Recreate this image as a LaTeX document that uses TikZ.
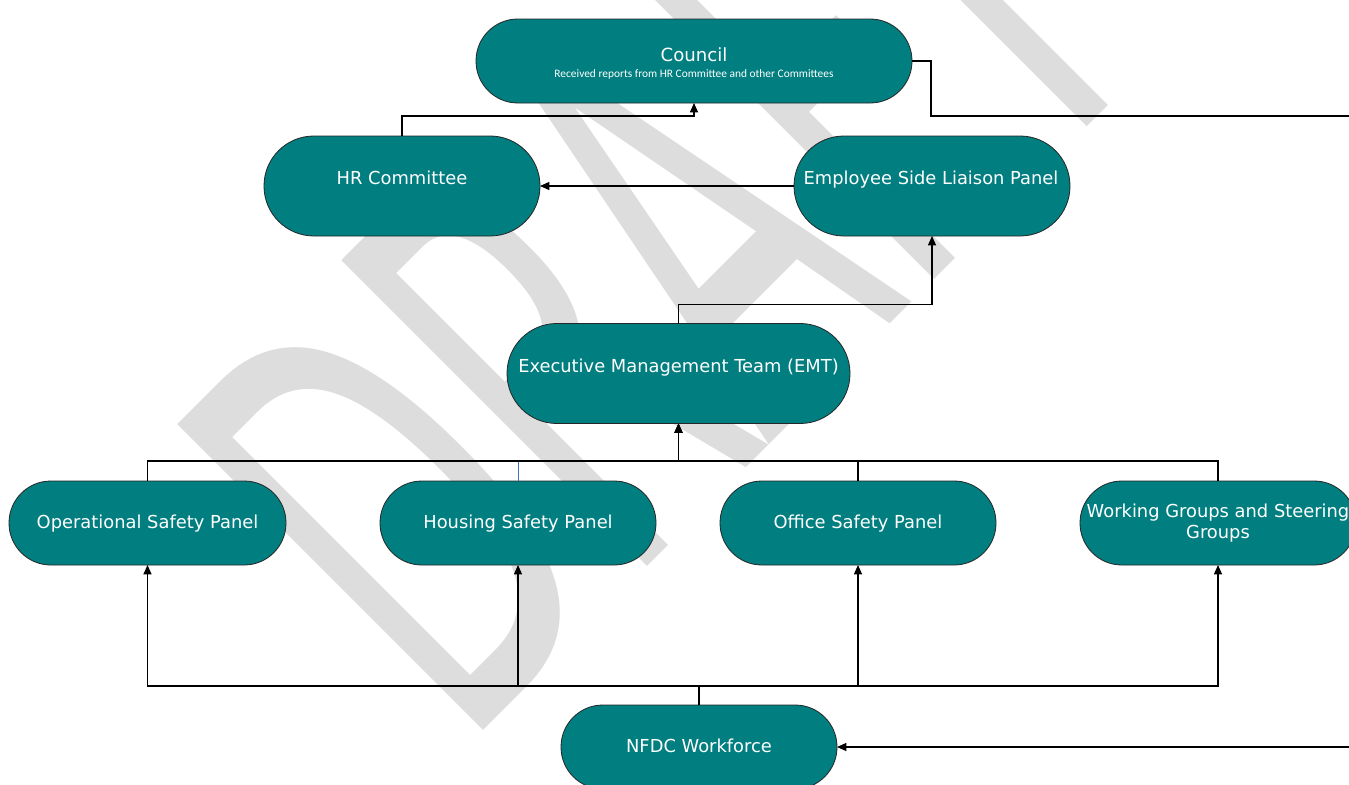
\documentclass[tikz,border=0pt]{standalone}
\usepackage{fontspec}
\setmainfont{DejaVu Sans}
\newfontfamily\subfont{Carlito}
\newfontfamily\wmfont{DejaVu Sans}
\usetikzlibrary{arrows.meta}
\definecolor{tealbox}{RGB}{0,126,128}
\definecolor{wmgrey}{RGB}{221,221,221}
\definecolor{connblue}{RGB}{68,114,196}
\begin{document}
\begin{tikzpicture}[x=0.75pt,y=-0.75pt,
  box/.style={draw=black!85,line width=0.6pt,fill=tealbox,inner sep=0pt,outer sep=0pt,
    minimum width=207pt,minimum height=63pt,rounded corners=31.4pt},
  tallbox/.style={box,minimum height=75pt,rounded corners=37.4pt},
  lbl/.style={text=white,inner sep=0pt,anchor=base,font=\fontsize{13.4pt}{16pt}\selectfont},
  sublbl/.style={text=white,inner sep=0pt,anchor=base,font=\subfont\fontsize{8.55pt}{10pt}\selectfont},
  conn/.style={draw=black,line width=0.85pt,-{Triangle[length=7pt,width=6pt]}},
  plain/.style={draw=black,line width=0.85pt},
  blueconn/.style={draw=connblue,line width=0.7pt,-{Triangle[length=7pt,width=6pt]}},
  wm/.style={text=wmgrey,inner sep=0pt,font=\wmfont\fontsize{445pt}{450pt}\selectfont}
]
\useasboundingbox (0,0) rectangle (1349,785);
\clip (0,0) rectangle (1349,785);
\fill[white] (0,0) rectangle (1349,785);

% watermark
\node[wm,rotate=45,anchor=base west] (draft) at (462,752) {\scalebox{0.51}[1]{DRAFT}};

% boxes
\node[box,minimum width=327pt] (council) at (694,61) {};
\node[tallbox] (hr) at (402,186) {};
\node[tallbox] (eslp) at (932,186) {};
\node[tallbox,minimum width=257.25pt] (emt) at (678.5,373.5) {};
\node[box,minimum width=207.75pt] (osp) at (147.5,523) {};
\node[box] (hsp) at (518,523) {};
\node[box] (ofsp) at (858,523) {};
\node[box] (wg) at (1218,523) {};
\node[box] (nfdc) at (699,747) {};

% labels
\node[lbl,font=\fontsize{13.6pt}{16pt}\selectfont] (councilT) at (694,61.5) {Council};
\node[sublbl] (councilS) at (694,77) {Received reports from HR Committee and other Committees};
\node[lbl] (hrT) at (402,184) {HR Committee};
\node[lbl] (eslpT) at (931,184) {Employee Side Liaison Panel};
\node[lbl] (emtT) at (678.5,372) {Executive Management Team (EMT)};
\node[lbl] (ospT) at (147.5,528.5) {Operational Safety Panel};
\node[lbl] (hspT) at (518,528.5) {Housing Safety Panel};
\node[lbl] (ofspT) at (858,528.5) {Office Safety Panel};
\node[lbl] (wgT1) at (1218,517) {Working Groups and Steering};
\node[lbl] (wgT2) at (1218,538.5) {Groups};
\node[lbl] (nfdcT) at (699,752.5) {NFDC Workforce};

% free ends at the right edge
\coordinate (rtop) at (1355,116);
\coordinate (rbot) at (1355,747);

% connectors
\draw[blueconn] (hsp.north) -- ++(0,-20) -| (emt.south);
\draw[conn] (hr.north) -- ++(0,-20) -| (council.south);
\draw[plain] (council.east) -- ++(19,0) |- (rtop);
\draw[conn] (rbot) -- (nfdc.east);
\draw[conn] (eslp.west) -- (hr.east);
\draw[conn] (emt.north) -- ++(0,-19) -| (eslp.south);
\draw[conn] (osp.north) -- ++(0,-20) -| (emt.south);
\draw[conn] (ofsp.north) -- ++(0,-20) -| (emt.south);
\draw[conn] (wg.north) -- ++(0,-20) -| (emt.south);
\draw[conn] (nfdc.north) -- ++(0,-19) -| (osp.south);
\draw[conn] (nfdc.north) -- ++(0,-19) -| (hsp.south);
\draw[conn] (nfdc.north) -- ++(0,-19) -| (ofsp.south);
\draw[conn] (nfdc.north) -- ++(0,-19) -| (wg.south);
\end{tikzpicture}
\end{document}
